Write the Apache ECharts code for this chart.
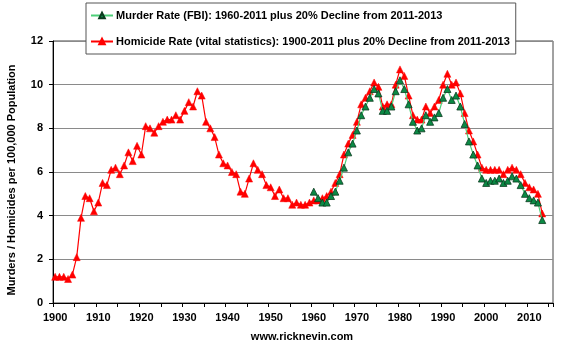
<!DOCTYPE html>
<html>
<head>
<meta charset="utf-8">
<script src="https://cdn.jsdelivr.net/npm/echarts@6/dist/echarts.min.js"></script>
<style>
  html, body { margin: 0; padding: 0; background: #fff; }
  #chart { width: 568px; height: 346px; }
</style>
</head>
<body>
<div id="chart"></div>
<script>
// Year categories along the x axis (1900 through 2015)
const firstYear = 1900;
const lastYear = 2015;
const years = [];
for (let y = firstYear; y <= lastYear; y++) years.push(String(y));

// Homicide rate per 100,000 (vital statistics), 1900-2013
const homicideStart = 1900;
const homicideRate = [
  1.2, 1.2, 1.2, 1.1, 1.3, 2.1, 3.9, 4.9, 4.8, 4.2,   // 1900s
  4.6, 5.5, 5.4, 6.1, 6.2, 5.9, 6.3, 6.9, 6.5, 7.2,   // 1910s
  6.8, 8.1, 8.0, 7.8, 8.1, 8.3, 8.4, 8.4, 8.6, 8.4,   // 1920s
  8.8, 9.2, 9.0, 9.7, 9.5, 8.3, 8.0, 7.6, 6.8, 6.4,   // 1930s
  6.3, 6.0, 5.9, 5.1, 5.0, 5.7, 6.4, 6.1, 5.9, 5.4,   // 1940s
  5.3, 4.9, 5.2, 4.8, 4.8, 4.5, 4.6, 4.5, 4.5, 4.6,   // 1950s
  4.7, 4.7, 4.8, 4.9, 5.1, 5.5, 5.9, 6.8, 7.3, 7.7,   // 1960s
  8.3, 9.1, 9.4, 9.7, 10.1, 9.9, 9.0, 9.1, 9.1, 10.0, // 1970s
  10.7, 10.4, 9.5, 8.6, 8.4, 8.4, 9.0, 8.7, 9.0, 9.3, // 1980s
  10.0, 10.5, 10.0, 10.1, 9.6, 8.7, 7.9, 7.4, 6.8, 6.2, // 1990s
  6.1, 6.1, 6.1, 6.1, 5.9, 6.1, 6.2, 6.1, 5.9, 5.5,   // 2000s
  5.3, 5.2, 5.0, 4.1                                   // 2010-2013
];

// Murder rate per 100,000 (FBI), 1960-2013
const murderStart = 1960;
const murderRate = [
  5.1, 4.8, 4.6, 4.6, 4.9, 5.1, 5.6, 6.2, 6.9, 7.3,   // 1960s
  7.9, 8.6, 9.0, 9.4, 9.8, 9.6, 8.8, 8.8, 9.0, 9.7,   // 1970s
  10.2, 9.8, 9.1, 8.3, 7.9, 8.0, 8.6, 8.3, 8.5, 8.7,  // 1980s
  9.4, 9.8, 9.3, 9.5, 9.0, 8.2, 7.4, 6.8, 6.3, 5.7,   // 1990s
  5.5, 5.6, 5.6, 5.7, 5.5, 5.6, 5.8, 5.7, 5.4, 5.0,   // 2000s
  4.8, 4.7, 4.6, 3.8                                   // 2010-2013
];

// Y axis ticks
const yTicks = [0, 2, 4, 6, 8, 10, 12];

// Series names
const murderName = 'Murder Rate (FBI): 1960-2011 plus 20% Decline from 2011-2013';
const homicideName = 'Homicide Rate (vital statistics): 1900-2011 plus 20% Decline from 2011-2013';

// Place a series that starts at a given year onto the full year axis
function alignToYears(start, values) {
  return years.map(function (label) {
    const i = Number(label) - start;
    return (i >= 0 && i < values.length) ? values[i] : null;
  });
}

const FONT = "'Liberation Sans', Arial, Helvetica, sans-serif";

const chart = echarts.init(document.getElementById('chart'), null, { renderer: 'canvas' });

chart.setOption({
  animation: false,
  backgroundColor: '#ffffff',
  textStyle: { fontFamily: FONT },
  grid: {
    left: 53, right: 15, top: 41, bottom: 43,
    show: true, borderColor: '#444', borderWidth: 1, backgroundColor: 'transparent'
  },
  legend: {
    orient: 'vertical',
    left: 86, top: 3,
    padding: [7, 6, 7, 4],
    itemGap: 15,
    itemWidth: 22,
    itemHeight: 7,
    backgroundColor: '#ffffff',
    borderColor: '#555',
    borderWidth: 1,
    data: [murderName, homicideName],
    textStyle: { fontFamily: FONT, fontSize: 11, fontWeight: 'bold', color: '#000', padding: [0, 0, 0, -2] }
  },
  xAxis: {
    type: 'category',
    data: years,
    boundaryGap: true,
    axisLine: { show: true, lineStyle: { color: '#000', width: 1 } },
    axisTick: { show: true, interval: 4, length: 4, lineStyle: { color: '#000' } },
    axisLabel: { interval: 9, margin: 9, fontFamily: FONT, fontSize: 11, fontWeight: 'bold', color: '#000' },
    splitLine: { show: false }
  },
  yAxis: {
    type: 'value',
    min: yTicks[0], max: yTicks[yTicks.length - 1], interval: yTicks[1] - yTicks[0],
    axisLine: { show: true, lineStyle: { color: '#000', width: 1 } },
    axisTick: { show: true, length: 4, lineStyle: { color: '#000' } },
    axisLabel: { margin: 10, fontFamily: FONT, fontSize: 11, fontWeight: 'bold', color: '#000' },
    splitLine: { show: true, lineStyle: { color: '#8a8a8a', width: 1 } }
  },
  series: [
    {
      name: homicideName,
      type: 'line',
      data: alignToYears(homicideStart, homicideRate),
      symbol: 'triangle',
      symbolSize: 7,
      showAllSymbol: true,
      connectNulls: false,
      lineStyle: { color: '#ff0000', width: 1.2 },
      itemStyle: { color: '#ff0000', borderColor: '#ff0000', borderWidth: 0.5 },
      z: 3
    },
    {
      name: murderName,
      type: 'line',
      data: alignToYears(murderStart, murderRate),
      symbol: 'triangle',
      symbolSize: 7,
      showAllSymbol: true,
      connectNulls: false,
      lineStyle: { color: '#4ccf78', width: 1.2 },
      itemStyle: { color: '#0b8a45', borderColor: '#0a3a1e', borderWidth: 0.8 },
      z: 4
    }
  ],
  graphic: [
    {
      type: 'text',
      rotation: Math.PI / 2,
      x: 12, y: 180,
      style: {
        text: 'Murders / Homicides per 100,000 Population',
        fontFamily: FONT, fontSize: 11, fontWeight: 'bold', fill: '#000',
        align: 'center', verticalAlign: 'middle'
      }
    },
    {
      type: 'text',
      x: 302, y: 337,
      style: {
        text: 'www.ricknevin.com',
        fontFamily: FONT, fontSize: 11, fontWeight: 'bold', fill: '#000',
        align: 'center', verticalAlign: 'middle'
      }
    }
  ]
});
</script>
</body>
</html>
